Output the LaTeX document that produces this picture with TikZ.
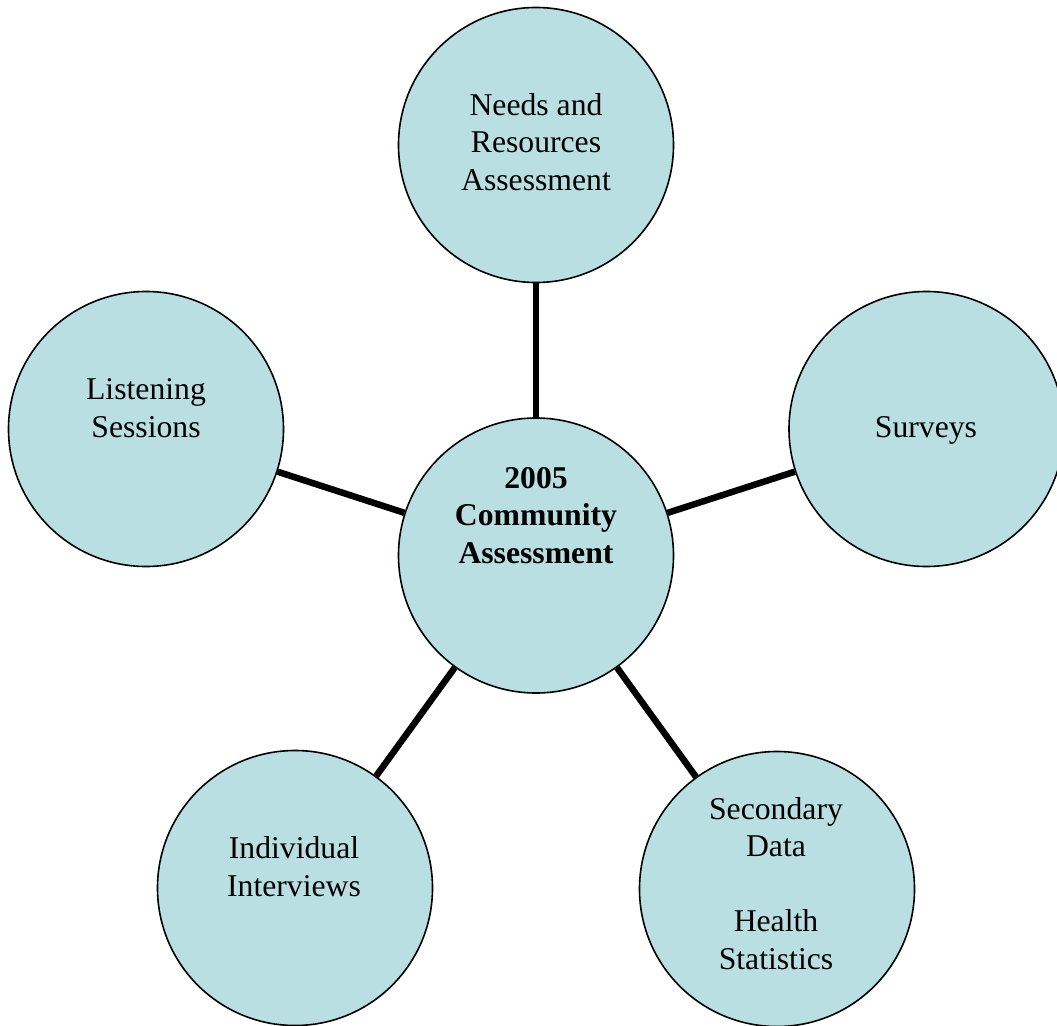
\documentclass[tikz,border=0pt]{standalone}
\usepackage{fontspec}
\setmainfont{Liberation Serif}
\definecolor{bubble}{HTML}{B9DFE3}
\tikzset{
  bub/.style={circle, draw=black, line width=1.6pt, fill=bubble, minimum size=275pt, inner sep=0pt},
  lbl/.style={align=center, anchor=base, inner sep=0pt, font=\fontsize{31.7}{37.5}\selectfont},
  link/.style={line width=6.5pt, draw=black}
}
\begin{document}
\begin{tikzpicture}[x=1pt, y=-1pt]
\clip (0,0) rectangle (1057,1025);
\fill[white] (0,0) rectangle (1057,1025);
\node[bub] (top) at (536,145) {};
\node[bub] (mid) at (536,555.5) {};
\node[bub] (lft) at (146,429) {};
\node[bub] (rgt) at (926.5,429) {};
\node[bub] (bl) at (295,888) {};
\node[bub] (br) at (777,889) {};
\draw[link] (mid) -- (top);
\draw[link] (mid) -- (lft);
\draw[link] (mid) -- (rgt);
\draw[link] (mid) -- (bl);
\draw[link] (mid) -- (br);
\node[lbl] (ttop) at (536,190) {Needs and\\Resources\\Assessment};
\node[lbl, font=\fontsize{31.7}{37.5}\selectfont\bfseries] (tmid) at (536,563) {2005\\Community\\Assessment};
\node[lbl] (tlft) at (146,437) {Listening\\Sessions};
\node[lbl] (trgt) at (926,437) {Surveys};
\node[lbl] (tbl) at (294,896) {Individual\\Interviews};
\node[lbl] (tbr) at (776,969) {Secondary\\Data\\[37.5pt]Health\\Statistics};
\end{tikzpicture}
\end{document}
